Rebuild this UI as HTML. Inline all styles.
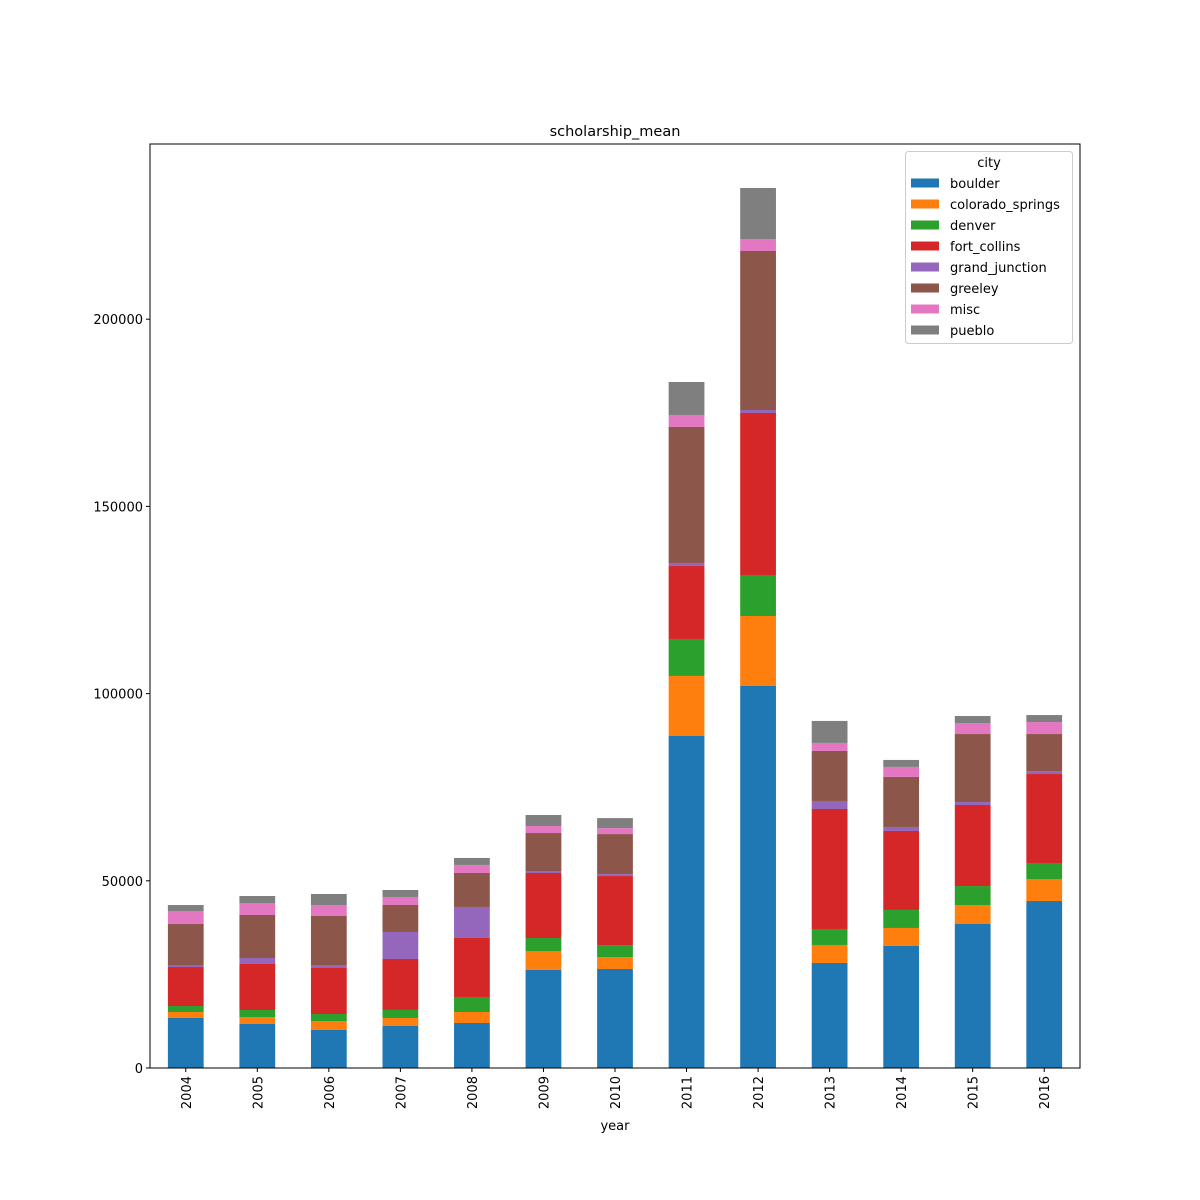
<!DOCTYPE html>
<html><head><meta charset="utf-8"><style>
html,body{margin:0;padding:0;background:#fff;overflow:hidden}
svg{display:block}
svg text{font-family:"DejaVu Sans","Liberation Sans",sans-serif;fill:#000}
</style></head><body>
<svg id="chart" width="1200" height="1200" xmlns="http://www.w3.org/2000/svg">
<rect width="1200" height="1200" fill="#fff"/>
<text x="615" y="136" font-size="14.5" text-anchor="middle">scholarship_mean</text>
<g id="bars"></g>
<g id="axes"></g>
<g id="legend"></g>
</svg>
<script>
const years = ["2004","2005","2006","2007","2008","2009","2010","2011","2012","2013","2014","2015","2016"];
const cities = ["boulder","colorado_springs","denver","fort_collins","grand_junction","greeley","misc","pueblo"];
const colors = ["#1f77b4","#ff7f0e","#2ca02c","#d62728","#9467bd","#8c564b","#e377c2","#7f7f7f"];
const boulder = [13355,11750,10150,11220,12020,26180,26440,88680,102030,28050,32590,38460,44600];
const coloradoSprings = [1600,1870,2400,2140,2940,5070,3200,16030,18700,4810,4810,5070,5880];
const denver = [1600,1870,1870,2140,4010,3470,3200,9880,10950,4270,4810,5070,4270];
const fortCollins = [10420,12290,12290,13620,15760,17360,18430,19500,43270,32050,21100,21640,23770];
const grandJunction = [350,1600,800,7210,8280,530,530,800,800,2140,1070,800,800];
const greeley = [11130,11490,13090,7210,9080,10150,10680,36330,42470,13360,13360,18160,9880];
const misc = [3470,3200,2940,2140,2140,1870,1600,3200,3200,2140,2670,2940,3200];
const pueblo = [1600,1870,2940,1870,1870,2940,2670,8810,13620,5880,1870,1870,1870];
const yTicks = [0,50000,100000,150000,200000];
const series = [boulder,coloradoSprings,denver,fortCollins,grandJunction,greeley,misc,pueblo];

const NS="http://www.w3.org/2000/svg";
const L=150,R=1080,T=144,B=1068;
const yScale=v=>B-v*(187.2/50000);
const step=(R-L)/years.length;
const xCenter=i=>L+step*(i+0.5);
const bw=step*0.5;
function mk(tag,attrs,parent){const e=document.createElementNS(NS,tag);for(const k in attrs)e.setAttribute(k,attrs[k]);parent.appendChild(e);return e;}
const gb=document.getElementById('bars'),ga=document.getElementById('axes'),gl=document.getElementById('legend');
years.forEach((y,i)=>{
  let cum=0;
  series.forEach((s,j)=>{
    const y0=yScale(cum),y1=yScale(cum+s[i]);cum+=s[i];
    const r=mk('rect',{x:xCenter(i)-bw/2,y:y1,width:bw,height:y0-y1,fill:colors[j]},gb);
    
    
  });
  const t=mk('line',{x1:xCenter(i),x2:xCenter(i),y1:B,y2:B+4,stroke:'#000','stroke-width':1},ga);
  
  
  const lb=mk('text',{x:0,y:0,'font-size':13,'text-anchor':'end',transform:`translate(${xCenter(i)+5},${B+8}) rotate(-90)`},ga);
  lb.textContent=y;
  
  
});
yTicks.forEach(v=>{
  const t=mk('line',{x1:L-4,x2:L,y1:yScale(v),y2:yScale(v),stroke:'#000','stroke-width':1},ga);
  
  
  const lb=mk('text',{x:L-7,y:yScale(v)+5,'font-size':13,'text-anchor':'end'},ga);
  lb.textContent=v;
  
  
});
const frame=mk('rect',{x:L,y:T,width:R-L,height:B-T,fill:'none',stroke:'#000','stroke-width':1},ga);


const xt=mk('text',{x:615,y:1130,'font-size':13,'text-anchor':'middle'},ga);
xt.textContent='year';


const lbx=mk('rect',{x:905.5,y:151.5,width:167,height:192,rx:3,fill:'#fff','fill-opacity':0.8,stroke:'#ccc'},gl);


const lt=mk('text',{x:989,y:167,'font-size':13,'text-anchor':'middle'},gl);
lt.textContent='city';


cities.forEach((c,j)=>{
  const yy=183+j*21;
  const p=mk('rect',{x:911,y:yy-4.5,width:28,height:9,fill:colors[j]},gl);
  
  
  const tx=mk('text',{x:950,y:yy+5,'font-size':13},gl);
  tx.textContent=c;
  
  
});
</script>
</body></html>
